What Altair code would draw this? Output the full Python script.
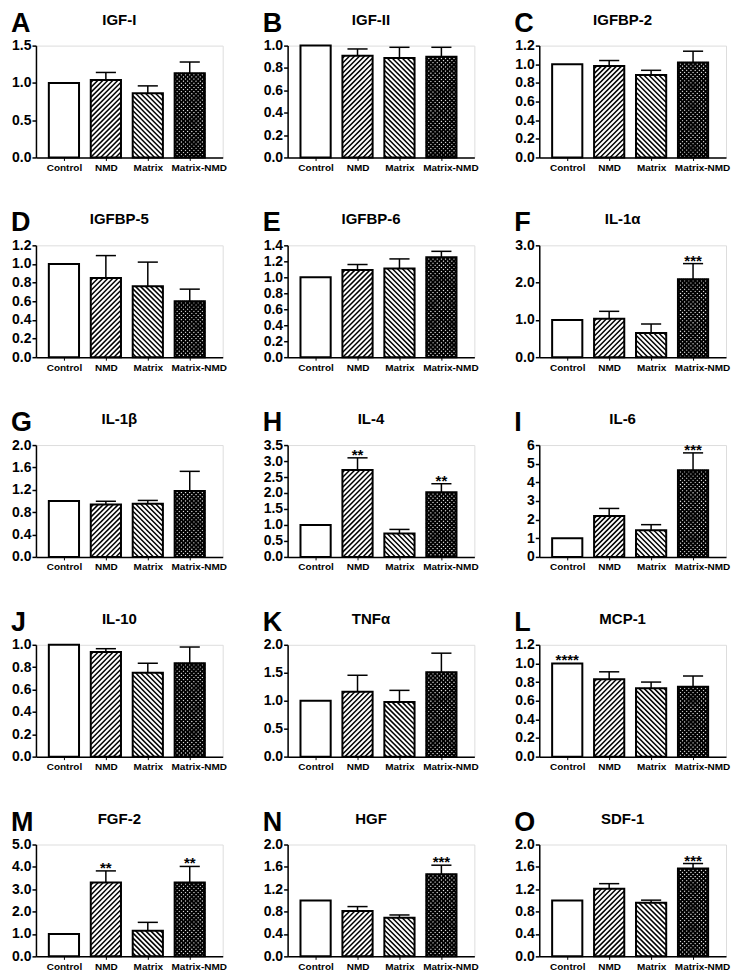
import altair as alt
import numpy as np
import pandas as pd

# ---------------- data ----------------
categories = ["Control", "NMD", "Matrix", "Matrix-NMD"]
letters = ["A", "B", "C", "D", "E", "F", "G", "H", "I", "J", "K", "L", "M", "N", "O"]
titles = ["IGF-I", "IGF-II", "IGFBP-2", "IGFBP-5", "IGFBP-6", "IL-1α", "IL-1β", "IL-4",
          "IL-6", "IL-10", "TNFα", "MCP-1", "FGF-2", "HGF", "SDF-1"]

igf1_mean = [1.00, 1.04, 0.86, 1.13]
igf1_err = [0.00, 0.10, 0.10, 0.15]
igf2_mean = [1.00, 0.91, 0.89, 0.90]
igf2_err = [0.00, 0.06, 0.095, 0.085]
igfbp2_mean = [1.00, 0.98, 0.885, 1.02]
igfbp2_err = [0.00, 0.06, 0.05, 0.12]
igfbp5_mean = [1.00, 0.85, 0.76, 0.60]
igfbp5_err = [0.00, 0.24, 0.26, 0.13]
igfbp6_mean = [1.00, 1.09, 1.11, 1.25]
igfbp6_err = [0.00, 0.07, 0.12, 0.075]
il1a_mean = [1.00, 1.03, 0.65, 2.09]
il1a_err = [0.00, 0.20, 0.24, 0.42]
il1b_mean = [1.00, 0.935, 0.95, 1.18]
il1b_err = [0.00, 0.06, 0.06, 0.35]
il4_mean = [1.00, 2.72, 0.73, 2.02]
il4_err = [0.00, 0.38, 0.13, 0.27]
il6_mean = [1.00, 2.20, 1.43, 4.65]
il6_err = [0.00, 0.40, 0.30, 0.93]
il10_mean = [1.00, 0.935, 0.75, 0.835]
il10_err = [0.00, 0.03, 0.085, 0.145]
tnfa_mean = [1.00, 1.16, 0.975, 1.51]
tnfa_err = [0.00, 0.295, 0.21, 0.34]
mcp1_mean = [1.00, 0.83, 0.735, 0.75]
mcp1_err = [0.00, 0.08, 0.065, 0.115]
fgf2_mean = [1.00, 3.30, 1.15, 3.30]
fgf2_err = [0.00, 0.52, 0.37, 0.72]
hgf_mean = [1.00, 0.81, 0.69, 1.47]
hgf_err = [0.00, 0.08, 0.05, 0.16]
sdf1_mean = [1.00, 1.21, 0.96, 1.57]
sdf1_err = [0.00, 0.09, 0.045, 0.09]

means = [igf1_mean, igf2_mean, igfbp2_mean, igfbp5_mean, igfbp6_mean, il1a_mean, il1b_mean,
         il4_mean, il6_mean, il10_mean, tnfa_mean, mcp1_mean, fgf2_mean, hgf_mean, sdf1_mean]
errs = [igf1_err, igf2_err, igfbp2_err, igfbp5_err, igfbp6_err, il1a_err, il1b_err,
        il4_err, il6_err, il10_err, tnfa_err, mcp1_err, fgf2_err, hgf_err, sdf1_err]

y_max = [1.5, 1.0, 1.2, 1.2, 1.4, 3.0, 2.0, 3.5, 6, 1.0, 2.0, 1.2, 5.0, 2.0, 2.0]
y_step = [0.5, 0.2, 0.2, 0.2, 0.2, 1.0, 0.4, 0.5, 1, 0.2, 0.5, 0.2, 1.0, 0.4, 0.4]
y_format = [".1f"] * 8 + ["d"] + [".1f"] * 6

no_sig = ["", "", "", ""]
significance = {
    "F": ["", "", "", "***"],
    "H": ["", "**", "", "**"],
    "I": ["", "", "", "***"],
    "L": ["****", "", "", ""],
    "M": ["", "**", "", "**"],
    "N": ["", "", "", "***"],
    "O": ["", "", "", "***"],
}
patterns = ["none", "fwd", "back", "cross"]

# ---------------- layout / style ----------------
W, H = 187, 112
XMIN, XMAX = -0.667, 3.786
KX = W / (XMAX - XMIN)
BAR_HALF = 0.36
CAP_HALF = 0.24
FONT = "Liberation Sans"

label_expr = "[" + ",".join("'" + c + "'" for c in categories) + "][datum.value]"

x_scale = alt.Scale(domain=[XMIN, XMAX], nice=False, zero=False)
x_axis = alt.Axis(values=[0, 1, 2, 3], labelExpr=label_expr, title=None, grid=False,
                  domainColor="black", domainWidth=1.5, tickColor="black", tickWidth=1,
                  tickSize=3, labelFont=FONT, labelFontSize=10, labelFontWeight="bold",
                  labelColor="black", labelPadding=2, labelFlush=False, labelOverlap=False,
                  labelOffset={"condition": {"test": "datum.value == 3", "value": 9},
                               "value": 0})


def hatch_rows(vals, ymax):
    ky = H / ymax
    rows = []
    for i, (v, kind) in enumerate(zip(vals, patterns)):
        if kind == "none":
            continue
        w = 2 * BAR_HALF * KX
        h = v * ky
        xl = i - BAR_HALF
        if kind == "cross":
            dirs, s, sw = [1, -1], 4.2, 1.9
        elif kind == "fwd":
            dirs, s, sw = [1], 5.0, 1.5
        else:
            dirs, s, sw = [-1], 5.0, 1.5
        for d in dirs:
            for c in np.arange(-h + s / 2, w, s):
                u0 = max(0.0, c)
                u1 = min(w, h + c)
                if u1 <= u0:
                    continue
                v0, v1 = u0 - c, u1 - c
                if d == -1:
                    u0, u1 = w - u0, w - u1
                rows.append({"hx": xl + u0 / KX, "hy": v0 / ky,
                             "hx2": xl + u1 / KX, "hy2": v1 / ky, "sw": sw})
    return pd.DataFrame(rows)


def panel(k):
    ymax = y_max[k]
    step = y_step[k]
    ticks = [round(t * step, 4) for t in range(int(round(ymax / step)) + 1)]
    y_scale = alt.Scale(domain=[0, ymax], nice=False, zero=True)
    y_axis = alt.Axis(values=ticks, format=y_format[k], title=None, grid=False,
                      domainColor="black", domainWidth=1.5, tickColor="black", tickWidth=1.5,
                      tickSize=4, labelFont=FONT, labelFontSize=14, labelFontWeight="bold",
                      labelColor="black", labelPadding=1, minExtent=27, maxExtent=27)

    def X(f):
        return alt.X(f, type="quantitative", scale=x_scale, axis=x_axis)

    def Y(f):
        return alt.Y(f, type="quantitative", scale=y_scale, axis=y_axis)

    df = pd.DataFrame({"cat": categories, "idx": [0, 1, 2, 3], "mean": means[k],
                       "err": errs[k], "sig": significance.get(letters[k], no_sig)})
    df["top"] = df["mean"] + df["err"]
    df["xl"] = df["idx"] - BAR_HALF
    df["xr"] = df["idx"] + BAR_HALF
    df["cl"] = df["idx"] - CAP_HALF
    df["cr"] = df["idx"] + CAP_HALF
    df["zero"] = 0.0

    base = alt.Chart(df)
    fill = base.mark_bar(color="white", strokeWidth=0).encode(
        x=X("xl"), x2="xr:Q", y=Y("mean"), y2="zero:Q")
    hatch = alt.Chart(hatch_rows(means[k], ymax)).mark_rule(color="black").encode(
        x=X("hx"), x2="hx2:Q", y=Y("hy"), y2="hy2:Q",
        strokeWidth=alt.StrokeWidth("sw:Q", scale=None))
    outline = base.mark_bar(fill="white", fillOpacity=0, stroke="black", strokeWidth=2).encode(
        x=X("xl"), x2="xr:Q", y=Y("mean"), y2="zero:Q")
    ebar = base.transform_filter("datum.err > 0").mark_rule(color="black", strokeWidth=1.5).encode(
        x=X("idx"), y=Y("mean"), y2="top:Q")
    cap = base.transform_filter("datum.err > 0").mark_rule(color="black", strokeWidth=1.5).encode(
        x=X("cl"), x2="cr:Q", y=Y("top"))
    stars = base.transform_filter("datum.sig != ''").mark_text(
        font=FONT, fontSize=15, fontWeight="bold", color="black", baseline="alphabetic", dy=2
    ).encode(x=X("idx"), y=Y("top"), text="sig:N")

    lab = pd.DataFrame({"letter": [letters[k]], "title": [titles[k]]})
    letter = alt.Chart(lab).mark_text(
        font=FONT, fontSize=27, fontWeight="bold", color="black", align="left",
        baseline="alphabetic"
    ).encode(x=alt.value(-25), y=alt.value(-14), text="letter:N")
    title = alt.Chart(lab).mark_text(
        font=FONT, fontSize=15, fontWeight="bold", color="black", align="center",
        baseline="alphabetic"
    ).encode(x=alt.value(W / 2 - 10), y=alt.value(-21), text="title:N")

    return alt.layer(fill, hatch, outline, ebar, cap, stars, letter, title).properties(
        width=W, height=H)


panels = [panel(k) for k in range(15)]
chart = alt.concat(*panels, columns=3, bounds="flush",
                   spacing={"row": 88, "column": 65}).properties(padding=0).configure_view(
    stroke=None).configure(font=FONT, background="white")

chart.save("out.html", embed_options={"renderer": "svg", "actions": False})
